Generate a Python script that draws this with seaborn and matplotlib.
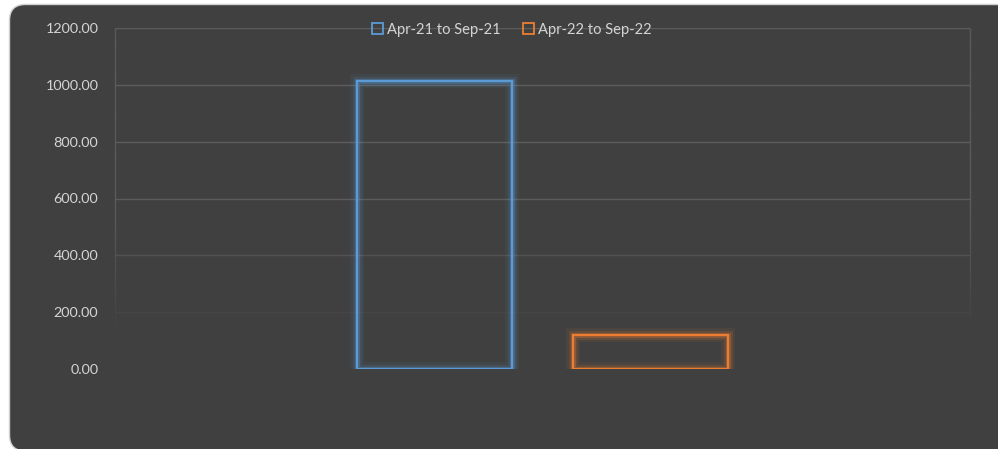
import numpy as np
import pandas as pd
import matplotlib
matplotlib.use("Agg")
import matplotlib.pyplot as plt
import matplotlib.patheffects as pe
from matplotlib.patches import FancyBboxPatch, Patch
from matplotlib.collections import LineCollection
from matplotlib.transforms import IdentityTransform
import seaborn as sns

# ---- data ----
categories = [""]
series = ["Apr-21 to Sep-21", "Apr-22 to Sep-22"]
values = [1012, 120]
y_ticks = [0, 200, 400, 600, 800, 1000, 1200]
colors = ["#5b9bd5", "#ed7d31"]

df = pd.DataFrame({"category": categories * len(series), "series": series, "value": values})

sns.set_theme(style="white")
plt.rcParams["font.family"] = ["Lato", "DejaVu Sans"]

W, H = 998, 449
fig = plt.figure(figsize=(W / 100, H / 100), dpi=100, facecolor="white")

# rounded dark background panel (pixel coordinates)
bg = FancyBboxPatch((9.5, -2), 1040, 449 - 4.5 + 2,
                    boxstyle="round,pad=0,rounding_size=16",
                    transform=IdentityTransform(), facecolor="#404040",
                    edgecolor="#d0d0d0", linewidth=1.0, zorder=-10)
fig.patches.append(bg)

ax = fig.add_axes([115 / W, 1 - 369 / H, (970 - 115) / W, (369 - 28) / H])
ax.set_facecolor("none")
ax.set_zorder(5)

sns.barplot(data=df, x="category", y="value", hue="series", palette=colors,
            fill=False, width=0.8, gap=0.282, linewidth=1.6, ax=ax, legend=False,
            err_kws={"linewidth": 0})

for patch, c in zip(ax.patches, colors):
    patch.set_edgecolor(c)
    patch.set_path_effects([
        pe.Stroke(linewidth=10, foreground=c, alpha=0.07),
        pe.Stroke(linewidth=6.5, foreground=c, alpha=0.14),
        pe.Stroke(linewidth=3.5, foreground=c, alpha=0.3),
        pe.Normal(),
    ])
    patch.set_zorder(3)

ax.set_xlim(-0.7917, 0.7917)
ax.set_ylim(0, 1200)
ax.set_yticks(y_ticks)
ax.set_yticklabels([f"{v:.2f}" for v in y_ticks])
ax.set_xticks([])
ax.set_xlabel("")
ax.set_ylabel("")
for s in ax.spines.values():
    s.set_visible(False)
ax.tick_params(axis="y", length=0, pad=12, labelsize=10.4, labelcolor="#d4d4d4")

# fading gridlines
grid_c = "#5c5c5c"
def fade(v):
    return float(np.clip((v - 120) / 420, 0, 1))
for v in y_ticks:
    a = fade(v)
    if a > 0:
        ax.axhline(v, color=grid_c, linewidth=1.0, alpha=a, zorder=1)

# fading side borders of plot area
ys = np.linspace(0, 1200, 120)
for xpos in ax.get_xlim():
    segs = [[(xpos, ys[i]), (xpos, ys[i + 1])] for i in range(len(ys) - 1)]
    cols = [(0.36, 0.36, 0.36, fade((ys[i] + ys[i + 1]) / 2)) for i in range(len(ys) - 1)]
    lc = LineCollection(segs, colors=cols, linewidths=1.0, zorder=1, clip_on=False)
    ax.add_collection(lc)

handles = [Patch(facecolor="none", edgecolor=c, linewidth=1.3, label=s) for s, c in zip(series, colors)]
leg = fig.legend(handles=handles, loc="center", bbox_to_anchor=(512 / W, 1 - 30 / H), ncol=2,
                 frameon=False, fontsize=10.6, labelcolor="#d4d4d4", handlelength=0.75,
                 handleheight=0.75, handletextpad=0.3, columnspacing=1.5)
leg.set_zorder(10)

fig.savefig("out.png", dpi=100, facecolor="white")
